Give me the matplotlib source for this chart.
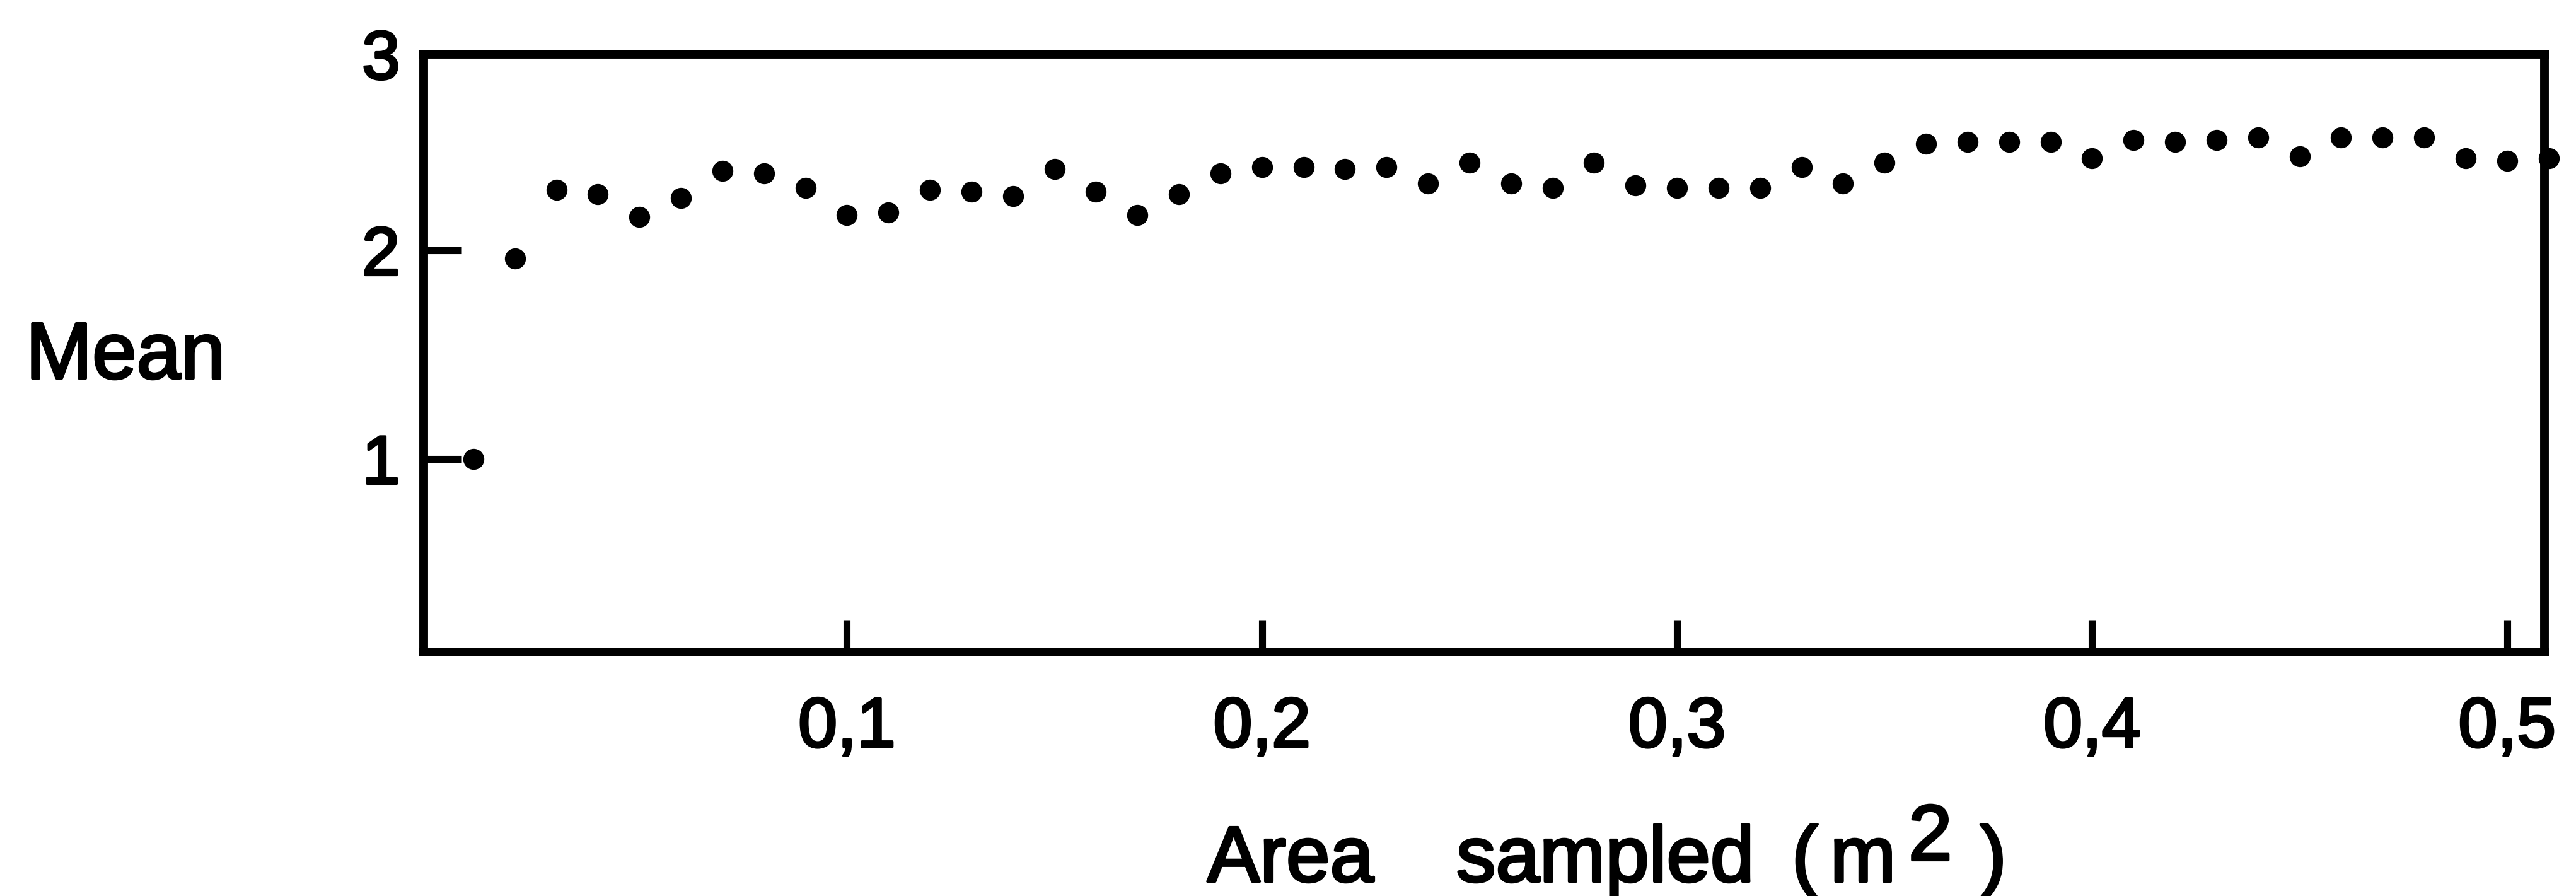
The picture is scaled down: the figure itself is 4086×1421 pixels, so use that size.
import matplotlib
matplotlib.use("Agg")
import matplotlib.pyplot as plt
import matplotlib.patheffects as pe

# Data
area = [0.01, 0.02, 0.03, 0.04, 0.05, 0.06, 0.07, 0.08, 0.09, 0.10,
        0.11, 0.12, 0.13, 0.14, 0.15, 0.16, 0.17, 0.18, 0.19, 0.20,
        0.21, 0.22, 0.23, 0.24, 0.25, 0.26, 0.27, 0.28, 0.29, 0.30,
        0.31, 0.32, 0.33, 0.34, 0.35, 0.36, 0.37, 0.38, 0.39, 0.40,
        0.41, 0.42, 0.43, 0.44, 0.45, 0.46, 0.47, 0.48, 0.49, 0.50,
        0.51]
mean = [1.00, 1.96, 2.29, 2.27, 2.16, 2.25, 2.38, 2.37, 2.30, 2.17,
        2.18, 2.29, 2.28, 2.26, 2.39, 2.28, 2.17, 2.27, 2.37, 2.40,
        2.40, 2.39, 2.40, 2.32, 2.42, 2.32, 2.30, 2.42, 2.31, 2.30,
        2.30, 2.30, 2.40, 2.32, 2.42, 2.51, 2.52, 2.52, 2.52, 2.44,
        2.53, 2.52, 2.53, 2.54, 2.45, 2.54, 2.54, 2.54, 2.44, 2.43,
        2.44]
xticks = [0.1, 0.2, 0.3, 0.4, 0.5]
xtick_labels = ["0,1", "0,2", "0,3", "0,4", "0,5"]
yticks = [1, 2]
ytick_labels = ["1", "2"]

FONT = "Liberation Sans"
plt.rcParams["font.family"] = [FONT, "DejaVu Sans"]
THICK = [pe.withStroke(linewidth=3, foreground="black")]

W, H, DPI = 4087, 1421, 100
fig = plt.figure(figsize=(W / DPI, H / DPI), dpi=DPI)
ax = fig.add_axes([672 / W, 1 - 1034 / H, (4036 - 672) / W, (1034 - 86) / H])

ax.plot(area, mean, linestyle="none", marker="o", ms=23, color="black",
        clip_on=False, zorder=3)

ax.set_xlim(-0.002, 0.509)
ax.set_ylim(0.075, 2.94)

for s in ax.spines.values():
    s.set_linewidth(10)
    s.set_color("black")

ax.set_xticks(xticks)
ax.set_xticklabels(xtick_labels, fontsize=80)
ax.set_yticks(yticks)
ax.set_yticklabels(ytick_labels, fontsize=78)
ax.tick_params(axis="x", direction="in", length=36, width=8, pad=50)
ax.tick_params(axis="y", direction="in", length=43, width=8, pad=27)
ax.set_yticks([1], minor=True)
ax.tick_params(axis="y", which="minor", direction="out", length=24, width=8)
ax.tick_params(top=False, right=False)
for lab in ax.get_xticklabels() + ax.get_yticklabels():
    lab.set_path_effects(THICK)

ax.annotate("3", xy=(0, 1), xycoords="axes fraction", xytext=(-27, 0),
            textcoords="offset points", ha="right", va="center_baseline",
            fontsize=78, annotation_clip=False, path_effects=THICK)

fig.text(41 / W, 1 - 600 / H, "Mean", ha="left", va="baseline",
         fontsize=91, path_effects=THICK)

# x-axis title, laid out piece by piece as in the original lettering
xlabel_parts = [("Area", 1915, 1398), ("sampled", 2310, 1398), ("(", 2842, 1398),
                ("m", 2903, 1398), ("2", 3027, 1364), (")", 3141, 1398)]
for txt, px, py in xlabel_parts:
    fig.text(px / W, 1 - py / H, txt, ha="left", va="baseline",
             fontsize=90, path_effects=THICK)

fig.savefig("out.png", dpi=DPI, facecolor="white")
